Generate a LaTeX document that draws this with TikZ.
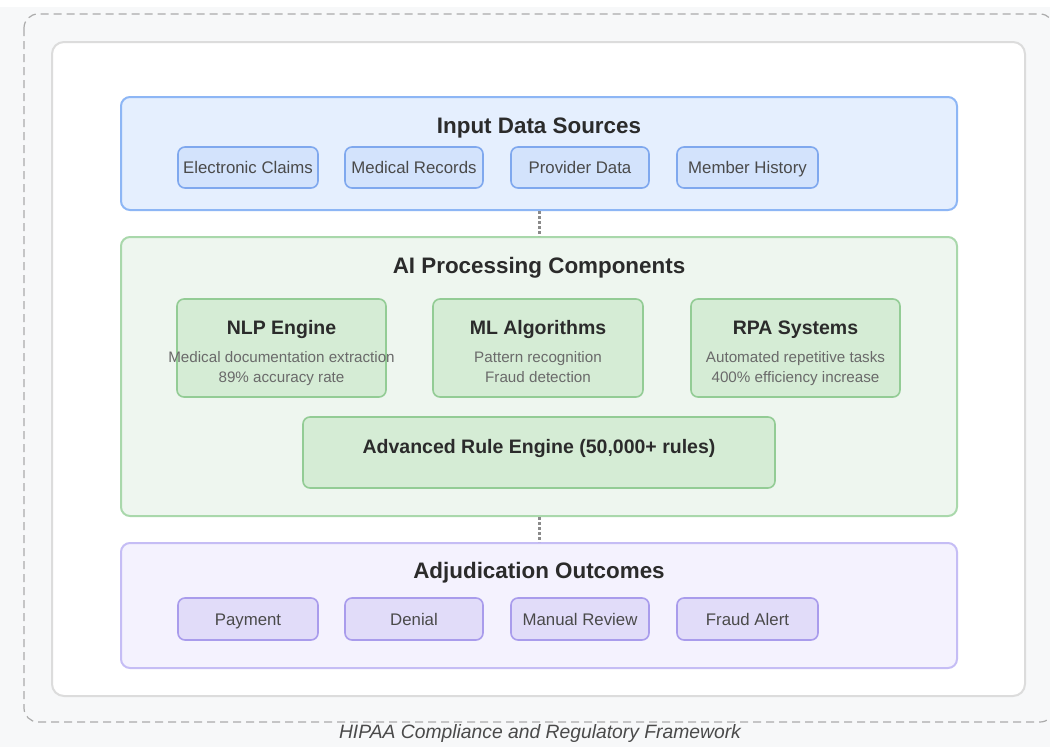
\documentclass[tikz,border=0pt]{standalone}
\usepackage{fontspec}
\setmainfont{Liberation Sans}
\usetikzlibrary{positioning}

\definecolor{pagebg}{HTML}{F7F8F9}
\definecolor{framegray}{HTML}{ABABAB}
\definecolor{panelborder}{HTML}{DCDCDC}
\definecolor{bluefill}{HTML}{E5EFFE}
\definecolor{blueline}{HTML}{8DB6F5}
\definecolor{bluesub}{HTML}{D3E3FC}
\definecolor{bluesubline}{HTML}{7FA8EE}
\definecolor{greenfill}{HTML}{EEF6EF}
\definecolor{greenline}{HTML}{A9D8AB}
\definecolor{greensub}{HTML}{D5ECD5}
\definecolor{greensubline}{HTML}{93CC95}
\definecolor{purplefill}{HTML}{F4F2FE}
\definecolor{purpleline}{HTML}{C5BDF5}
\definecolor{purplesub}{HTML}{E1DCF9}
\definecolor{purplesubline}{HTML}{A99CEC}
\definecolor{titletext}{HTML}{2B2B2B}
\definecolor{labeltext}{HTML}{4A4A4A}
\definecolor{desctext}{HTML}{6A6A6A}
\definecolor{linkgray}{HTML}{8A8A8A}

\tikzset{
  section/.style={draw=#1line, fill=#1fill, line width=2pt, rounded corners=9pt,
    inner sep=0pt},
  subbox/.style={draw=#1subline, fill=#1sub, line width=1.6pt, rounded corners=7pt,
    inner sep=0pt},
  % caps-centred text: text height equals the cap height of each size
  txt/.style={text height=#1, text depth=0pt, inner sep=0pt},
  sectitle/.style={txt=16.1pt, font=\fontsize{22.4}{26}\selectfont\bfseries, text=titletext},
  subtitle/.style={txt=14pt, font=\fontsize{19.5}{23}\selectfont\bfseries, text=titletext},
  label/.style={txt=12.1pt, font=\fontsize{16.8}{20}\selectfont, text=labeltext},
  desc/.style={txt=10.9pt, font=\fontsize{15.2}{18}\selectfont, text=desctext},
  link/.style={draw=linkgray, line width=3pt, dash pattern=on 3pt off 2pt},
}

\begin{document}
\begin{tikzpicture}[x=1pt, y=-1pt]
  \useasboundingbox (0,0) rectangle (1050,747);
  \clip (0,0) rectangle (1050,747);
  % page background
  \fill[pagebg] (0,7) rectangle (1050,747);

  % regulatory frame
  \draw[framegray, line width=1.2pt, dash pattern=on 8pt off 5pt, rounded corners=14pt]
    (24,14) rectangle (1054,722);
  \node[txt=13.9pt, fill=pagebg, inner xsep=4pt, inner ysep=2pt, text=labeltext,
        font=\fontsize{19.3}{23}\selectfont\itshape] (frame) at (540,732)
    {HIPAA Compliance and Regulatory Framework};

  % white panel
  \node[draw=panelborder, fill=white, line width=2pt, rounded corners=12pt,
        minimum width=973pt, minimum height=654pt] (panel) at (538.5,369) {};

  % sections
  \node[section=blue, minimum width=836pt, minimum height=113pt] (input) at (539,153.5) {};
  \node[section=green, minimum width=836pt, minimum height=279pt] (ai) at (539,376.5) {};
  \node[section=purple, minimum width=836pt, minimum height=125pt] (out) at (539,605.5) {};

  % links between sections
  \draw[link] (input.south) -- (ai.north);
  \draw[link] (ai.south) -- (out.north);

  % input data sources
  \node[sectitle] (inTitle) at (539,125.5) {Input Data Sources};
  \node[subbox=blue, minimum width=140pt, minimum height=41pt] (claims) at (248,167.5) {};
  \node[subbox=blue, minimum width=138pt, minimum height=41pt] (records) at (414,167.5) {};
  \node[subbox=blue, minimum width=138pt, minimum height=41pt] (provider) at (580,167.5) {};
  \node[subbox=blue, minimum width=141pt, minimum height=41pt] (member) at (747.5,167.5) {};
  \node[label] at (claims) {Electronic Claims};
  \node[label] at (records) {Medical Records};
  \node[label] at (provider) {Provider Data};
  \node[label] at (member) {Member History};

  % AI processing components
  \node[sectitle] (aiTitle) at (539,265) {AI Processing Components};
  \node[subbox=green, minimum width=209pt, minimum height=98pt] (nlp) at (281.5,348) {};
  \node[subbox=green, minimum width=210pt, minimum height=98pt] (ml) at (538,348) {};
  \node[subbox=green, minimum width=209pt, minimum height=98pt] (rpa) at (795.5,348) {};

  \node[subtitle] (nlpT) at (281.5,327) {NLP Engine};
  \node[desc] (nlpA) at (281.5,357) {Medical documentation extraction};
  \node[desc] (nlpB) at (281.5,377) {89\% accuracy rate};

  \node[subtitle] (mlT) at (538,327) {ML Algorithms};
  \node[desc] (mlA) at (538,357) {Pattern recognition};
  \node[desc] (mlB) at (538,377) {Fraud detection};

  \node[subtitle] (rpaT) at (795.5,327) {RPA Systems};
  \node[desc] (rpaA) at (795.5,357) {Automated repetitive tasks};
  \node[desc] (rpaB) at (795.5,377) {400\% efficiency increase};

  \node[subbox=green, minimum width=472pt, minimum height=71pt] (rules) at (539,452.5) {};
  \node[subtitle] (rulesT) at (539,446) {Advanced Rule Engine (50,000+ rules)};

  % adjudication outcomes
  \node[sectitle] (outTitle) at (539,570) {Adjudication Outcomes};
  \node[subbox=purple, minimum width=140pt, minimum height=42pt] (pay) at (248,619) {};
  \node[subbox=purple, minimum width=138pt, minimum height=42pt] (deny) at (414,619) {};
  \node[subbox=purple, minimum width=138pt, minimum height=42pt] (manual) at (580,619) {};
  \node[subbox=purple, minimum width=141pt, minimum height=42pt] (fraud) at (747.5,619) {};
  \node[label] at (pay) {Payment};
  \node[label] at (deny) {Denial};
  \node[label] at (manual) {Manual Review};
  \node[label] at (fraud) {Fraud Alert};
\end{tikzpicture}
\end{document}
